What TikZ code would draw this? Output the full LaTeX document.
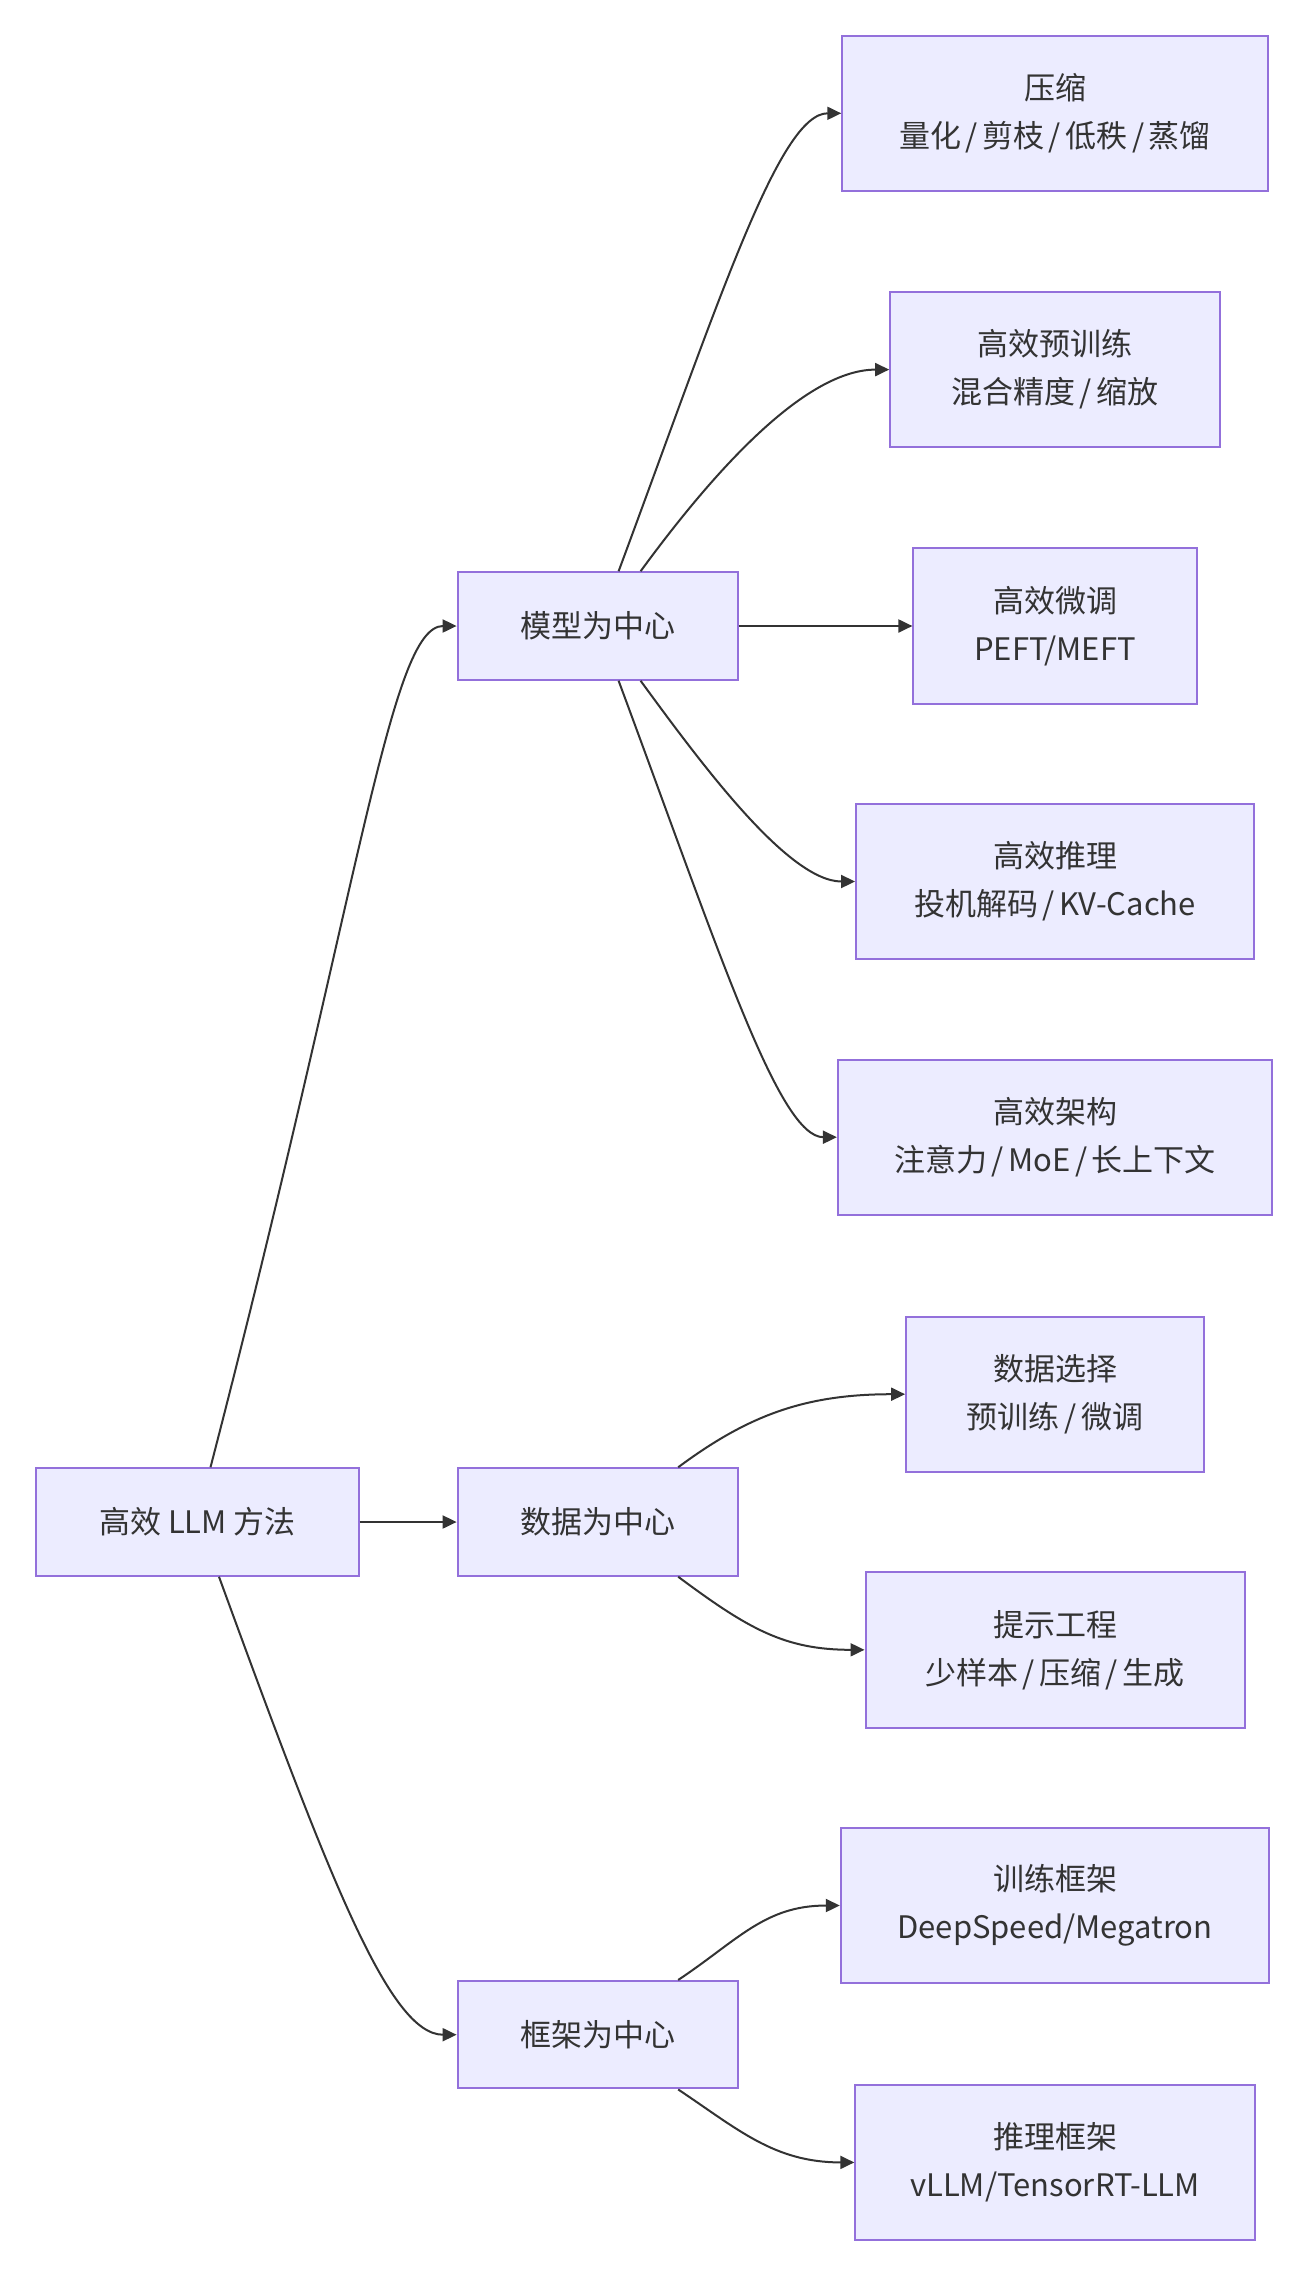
\documentclass[tikz,border=0pt]{standalone}
\usepackage{fontspec}
\setmainfont{Noto Sans CJK SC}
\usetikzlibrary{arrows.meta}
\definecolor{nodefill}{HTML}{ECECFF}
\definecolor{nodeline}{HTML}{9370DB}
\definecolor{edgecol}{HTML}{333333}
\newcommand{\cs}{\hspace{4.5pt}/\hspace{4.5pt}}
\begin{document}
\begin{tikzpicture}[x=1pt,y=-1pt,
  box/.style={draw=nodeline,fill=nodefill,line width=2pt,text=edgecol,align=center,
    font=\fontsize{31}{48}\selectfont,inner sep=0pt},
  midbox/.style={box,minimum width=280pt,minimum height=107.5pt},
  leafbox/.style={box,minimum height=155.4pt},
  edge/.style={draw=edgecol,line width=2pt,-{Triangle[length=14pt,width=13pt]}}]
\useasboundingbox (0,0) rectangle (1310,2276);
\node[box,minimum width=322.4pt,minimum height=107.5pt] (root) at (197.5,1522) {高效 LLM 方法};
\node[midbox] (model) at (597.6,626) {模型为中心};
\node[midbox] (data) at (597.6,1522) {数据为中心};
\node[midbox] (frame) at (597.6,2034.7) {框架为中心};
\node[leafbox,minimum width=425.5pt] (comp) at (1055,113.3) {压缩\\量化\cs 剪枝\cs 低秩\cs 蒸馏};
\node[leafbox,minimum width=329.6pt] (pre) at (1055,369.6) {高效预训练\\混合精度\cs 缩放};
\node[leafbox,minimum width=283.2pt] (ft) at (1055,626) {高效微调\\PEFT/MEFT};
\node[leafbox,minimum width=397.9pt] (inf) at (1055,881.5) {高效推理\\投机解码\cs KV-Cache};
\node[leafbox,minimum width=434.2pt] (arch) at (1055,1137.2) {高效架构\\注意力\cs MoE\cs 长上下文};
\node[leafbox,minimum width=297.8pt] (sel) at (1055,1394.2) {数据选择\\预训练\cs 微调};
\node[leafbox,minimum width=379pt] (prompt) at (1055,1649.8) {提示工程\\少样本\cs 压缩\cs 生成};
\node[leafbox,minimum width=428.4pt] (trainfw) at (1055,1905.5) {训练框架\\DeepSpeed/Megatron};
\node[leafbox,minimum width=399.4pt] (inffw) at (1055,2162.4) {推理框架\\vLLM/TensorRT-LLM};
% root edges
\draw[edge] ([xshift=13pt]root.north) .. controls +(150,-578) and +(-67,0) .. (model.west);
\draw[edge] (root.east) -- (data.west);
\draw[edge] ([xshift=21.5pt]root.south) .. controls +(111,304) and +(-67,0) .. (frame.west);
% model edges
\draw[edge] ([xshift=21pt]model.north) .. controls +(101,-272) and +(-62,0) .. (comp.west);
\draw[edge] ([xshift=43pt]model.north) .. controls +(60,-82) and +(-90,0) .. (pre.west);
\draw[edge] (model.east) -- (ft.west);
\draw[edge] ([xshift=43pt]model.south) .. controls +(60,82) and +(-67,0) .. (inf.west);
\draw[edge] ([xshift=21pt]model.south) .. controls +(101,272) and +(-58,0) .. (arch.west);
% data edges
\draw[edge] ([xshift=80.6pt]data.north) .. controls +(70,-52) and +(-100,0) .. (sel.west);
\draw[edge] ([xshift=80.6pt]data.south) .. controls +(70,52) and +(-80,0) .. (prompt.west);
% frame edges
\draw[edge] ([xshift=80.6pt]frame.north) .. controls +(60,-40) and +(-75,0) .. (trainfw.west);
\draw[edge] ([xshift=80.6pt]frame.south) .. controls +(60,40) and +(-80,0) .. (inffw.west);
\end{tikzpicture}
\end{document}
